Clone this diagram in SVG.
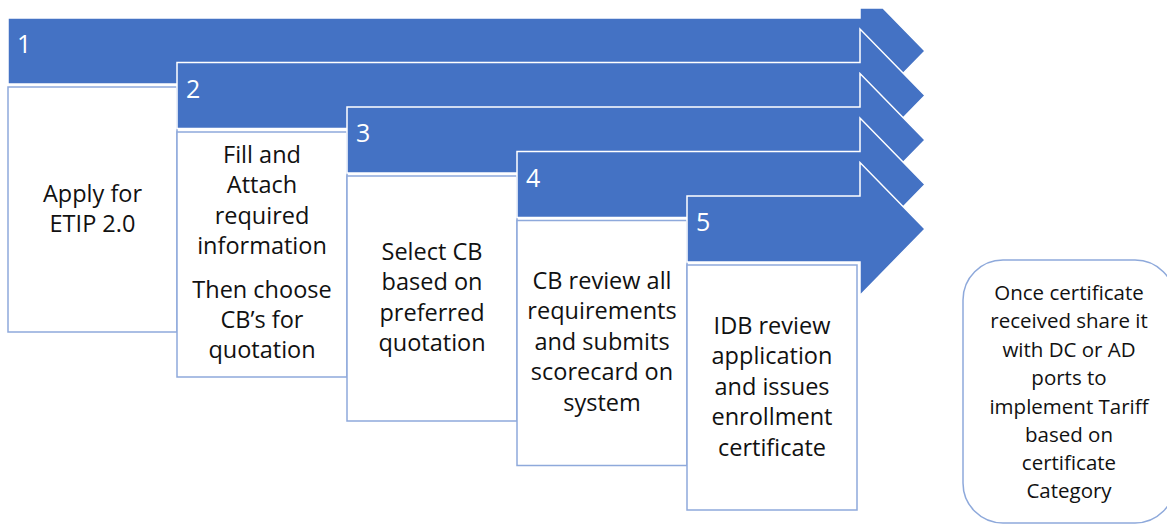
<svg xmlns="http://www.w3.org/2000/svg" width="1167" height="525" viewBox="0 0 1167 525">
<style>
.arrow{fill:#4472C4;stroke:#ffffff;stroke-width:1.5;stroke-linejoin:miter}
.box{fill:#ffffff;stroke:#8EA9DB;stroke-width:1.5}
.num{font-family:"Open Sans","Liberation Sans",sans-serif;font-size:25px;fill:#ffffff}
.t{font-family:"Open Sans","Liberation Sans",sans-serif;font-size:23.5px;fill:#111111;text-anchor:middle}
.ts{font-family:"Open Sans","Liberation Sans",sans-serif;font-size:20.5px;fill:#111111;text-anchor:middle}
</style>
<rect width="1167" height="525" fill="#ffffff"/>
<g id="step1">
<polygon class="arrow" points="8,18 860,18 860,8 883,8 925,51 860,117.5 860,84 8,84"/>
<text class="num" x="17" y="53">1</text>
<rect class="box" x="8" y="87" width="169" height="245"/>
<text class="t" x="92.5" y="202">Apply for</text>
<text class="t" x="92.5" y="232">ETIP 2.0</text>
</g>
<g id="step2">
<polygon class="arrow" points="177,62.5 860,62.5 860,29 925,95.5 860,162 860,128.5 177,128.5"/>
<text class="num" x="186" y="98">2</text>
<rect class="box" x="177" y="132" width="170" height="245"/>
<text class="t" x="262" y="163">Fill and</text>
<text class="t" x="262" y="193">Attach</text>
<text class="t" x="262" y="224">required</text>
<text class="t" x="262" y="254">information</text>
<text class="t" x="262" y="298">Then choose</text>
<text class="t" x="262" y="328">CB’s for</text>
<text class="t" x="262" y="358">quotation</text>
</g>
<g id="step3">
<polygon class="arrow" points="347,107 860,107 860,73.5 925,140 860,206.5 860,173 347,173"/>
<text class="num" x="356" y="142">3</text>
<rect class="box" x="347" y="176" width="170" height="245"/>
<text class="t" x="432" y="260">Select CB</text>
<text class="t" x="432" y="290">based on</text>
<text class="t" x="432" y="321">preferred</text>
<text class="t" x="432" y="351">quotation</text>
</g>
<g id="step4">
<polygon class="arrow" points="517,151.5 860,151.5 860,118 925,184.5 860,251 860,217.5 517,217.5"/>
<text class="num" x="526" y="187">4</text>
<rect class="box" x="517" y="220.5" width="170" height="245"/>
<text class="t" x="602" y="289">CB review all</text>
<text class="t" x="602" y="319">requirements</text>
<text class="t" x="602" y="350">and submits</text>
<text class="t" x="602" y="380">scorecard on</text>
<text class="t" x="602" y="410.5">system</text>
</g>
<g id="step5">
<polygon class="arrow" points="687,196 860,196 860,162.5 925,229 860,295.5 860,262 687,262"/>
<text class="num" x="696" y="231">5</text>
<rect class="box" x="687" y="265" width="170" height="245"/>
<text class="t" x="772" y="334">IDB review</text>
<text class="t" x="772" y="364">application</text>
<text class="t" x="772" y="395">and issues</text>
<text class="t" x="772" y="425">enrollment</text>
<text class="t" x="772" y="456">certificate</text>
</g>
<g id="final">
<rect class="box" x="963" y="260" width="212" height="263" rx="40" ry="40" stroke="#7F9FD9"/>
<text class="ts" x="1069" y="300">Once certificate</text>
<text class="ts" x="1069" y="328">received share it</text>
<text class="ts" x="1069" y="357">with DC or AD</text>
<text class="ts" x="1069" y="385">ports to</text>
<text class="ts" x="1069" y="414">implement Tariff</text>
<text class="ts" x="1069" y="442">based on</text>
<text class="ts" x="1069" y="470">certificate</text>
<text class="ts" x="1069" y="498">Category</text>
</g>
<g id="connectors"></g>
</svg>
